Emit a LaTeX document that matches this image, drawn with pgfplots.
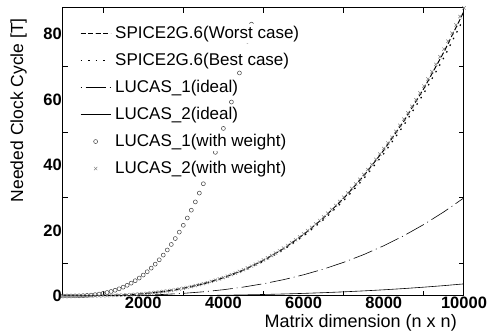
\documentclass[border=0pt]{standalone}
\usepackage{fontspec}
\setmainfont{Liberation Sans}
\usepackage{pgfplots}
\pgfplotsset{compat=1.18}
\usepackage{pgfplotstable}

\pgfplotstableread{
x worst best lone ltwo
0 0 0 0 0
500 0.011 0.011 0.004 0.0005
1000 0.087 0.085 0.030 0.0037
1500 0.294 0.287 0.101 0.0125
2000 0.696 0.680 0.240 0.0296
2500 1.359 1.328 0.469 0.0578
3000 2.349 2.295 0.810 0.0999
3500 3.730 3.644 1.286 0.1586
4000 5.568 5.440 1.920 0.2368
4500 7.928 7.746 2.734 0.3372
5000 10.875 10.625 3.750 0.4625
5500 14.475 14.142 4.991 0.6156
6000 18.792 18.360 6.480 0.7992
6500 23.892 23.343 8.239 1.0161
7000 29.841 29.155 10.290 1.2691
7500 36.703 35.859 12.656 1.5609
8000 44.544 43.520 15.360 1.8944
8500 53.429 52.201 18.424 2.2723
9000 63.423 61.965 21.870 2.6973
9500 74.592 72.877 25.721 3.1723
10000 87.000 85.000 30.000 3.7000
}\linestab

\pgfplotstableread{
x y
0 0
100 0.0008
200 0.0064
300 0.0216
400 0.0512
500 0.1
600 0.1728
700 0.2744
800 0.4096
900 0.5832
1000 0.8
1100 1.0648
1200 1.3824
1300 1.7576
1400 2.1952
1500 2.7
1600 3.2768
1700 3.9304
1800 4.6656
1900 5.4872
2000 6.4
2100 7.4088
2200 8.5184
2300 9.7336
2400 11.0592
2500 12.5
2600 14.0608
2700 15.7464
2800 17.5616
2900 19.5112
3000 21.6
3100 23.8328
3200 26.2144
3300 28.7496
3400 31.4432
3500 34.3
3600 37.3248
3700 40.5224
3800 43.8976
3900 47.4552
4000 51.2
4100 55.1368
4200 59.2704
4300 63.6056
4400 68.1472
4500 72.9
4600 77.8688
4700 83.0584
}\circtab

\pgfplotstableread{
x y
0 0
100 0.0001
200 0.0007
300 0.0024
400 0.0056
500 0.011
600 0.019
700 0.0302
800 0.0451
900 0.0642
1000 0.088
1100 0.1171
1200 0.1521
1300 0.1933
1400 0.2415
1500 0.297
1600 0.3604
1700 0.4323
1800 0.5132
1900 0.6036
2000 0.704
2100 0.815
2200 0.937
2300 1.0707
2400 1.2165
2500 1.375
2600 1.5467
2700 1.7321
2800 1.9318
2900 2.1462
3000 2.376
3100 2.6216
3200 2.8836
3300 3.1625
3400 3.4588
3500 3.773
3600 4.1057
3700 4.4575
3800 4.8287
3900 5.2201
4000 5.632
4100 6.065
4200 6.5197
4300 6.9966
4400 7.4962
4500 8.019
4600 8.5656
4700 9.1364
4800 9.7321
4900 10.3531
5000 11.0
5100 11.6733
5200 12.3735
5300 13.1012
5400 13.8568
5500 14.641
5600 15.4542
5700 16.297
5800 17.1699
5900 18.0734
6000 19.008
6100 19.9743
6200 20.9729
6300 22.0041
6400 23.0687
6500 24.167
6600 25.2996
6700 26.4671
6800 27.67
6900 28.9088
7000 30.184
7100 31.4962
7200 32.8458
7300 34.2335
7400 35.6597
7500 37.125
7600 38.6299
7700 40.1749
7800 41.7606
7900 43.3874
8000 45.056
8100 46.7668
8200 48.5204
8300 50.3173
8400 52.158
8500 54.043
8600 55.9729
8700 57.9483
8800 59.9695
8900 62.0373
9000 64.152
9100 66.3142
9200 68.5245
9300 70.7834
9400 73.0914
9500 75.449
9600 77.8568
9700 80.3152
9800 82.8249
9900 85.3863
10000 88.0
}\crosstab

\begin{document}
\begin{tikzpicture}
\begin{axis}[
  name=ax,
  scale only axis,
  width=401pt, height=288pt,
  xmin=0, xmax=10000, ymin=0, ymax=88,
  scaled x ticks=false, scaled y ticks=false,
  xtick={0,2000,4000,6000,8000,10000},
  xticklabels={,2000,4000,6000,8000,10000},
  ytick={0,20,40,60,80},
  yticklabels={0,20,40,60,80},
  minor xtick={1000,3000,5000,7000,9000},
  minor ytick={10,30,50,70},
  major tick length=0pt, minor tick length=5pt,
  tick align=inside, tick pos=both,
  axis line style={line width=1pt},
  minor tick style={line width=1pt, black},
  tick label style={font=\fontsize{16.5}{19}\selectfont\bfseries},
  xticklabel style={inner sep=1pt},
  yticklabel style={inner sep=1pt},
  xlabel={Matrix dimension (n x n)},
  ylabel={Needed Clock Cycle [T]},
  xlabel style={font=\fontsize{18}{21}\selectfont, at={(axis description cs:0.9825,-0.062)}, anchor=north east, inner sep=0pt},
  ylabel style={font=\fontsize{17.5}{21}\selectfont, at={(axis description cs:-0.09,0.965)}, anchor=south east, inner sep=0pt},
  legend image code/.code={\draw[mark repeat=2,mark phase=2,#1] plot coordinates {(0pt,0pt) (15pt,0pt) (30pt,0pt)};},
  legend cell align=left,
  legend style={draw=none, fill=none, at={(axis description cs:0.042,0.945)}, anchor=north west,
    font=\fontsize{17}{20}\selectfont, row sep=8pt, column sep=3pt, inner sep=0pt,
    nodes={inner sep=1pt, text height=13pt, text depth=4pt, fill=white}},
]
\addplot[black, line width=1pt, dash pattern=on 5pt off 2.5pt] table[x=x,y=worst]{\linestab};
\addlegendentry{SPICE2G.6(Worst case)}
\addplot[black, line width=1.2pt, dash pattern=on 1.5pt off 6pt] table[x=x,y=best]{\linestab};
\addlegendentry{SPICE2G.6(Best case)}
\addplot[black, line width=0.6pt, dash pattern=on 1pt off 4pt on 20pt off 4pt] table[x=x,y=lone]{\linestab};
\addlegendentry{LUCAS\_1(ideal)}
\addplot[black, line width=0.6pt] table[x=x,y=ltwo]{\linestab};
\addlegendentry{LUCAS\_2(ideal)}
\addplot[only marks, mark=o, mark size=2pt, gray!50!black, mark options={line width=0.5pt}] table[x=x,y=y]{\circtab};
\addlegendentry{LUCAS\_1(with weight)}
\addplot[only marks, mark=x, mark size=2.3pt, gray, mark options={line width=0.5pt}] table[x=x,y=y]{\crosstab};
\addlegendentry{LUCAS\_2(with weight)}
\end{axis}
\pgfresetboundingbox
\path[use as bounding box] ([xshift=-63pt,yshift=-35pt]ax.south west) rectangle ([xshift=27pt,yshift=8pt]ax.north east);
\end{tikzpicture}
\end{document}
